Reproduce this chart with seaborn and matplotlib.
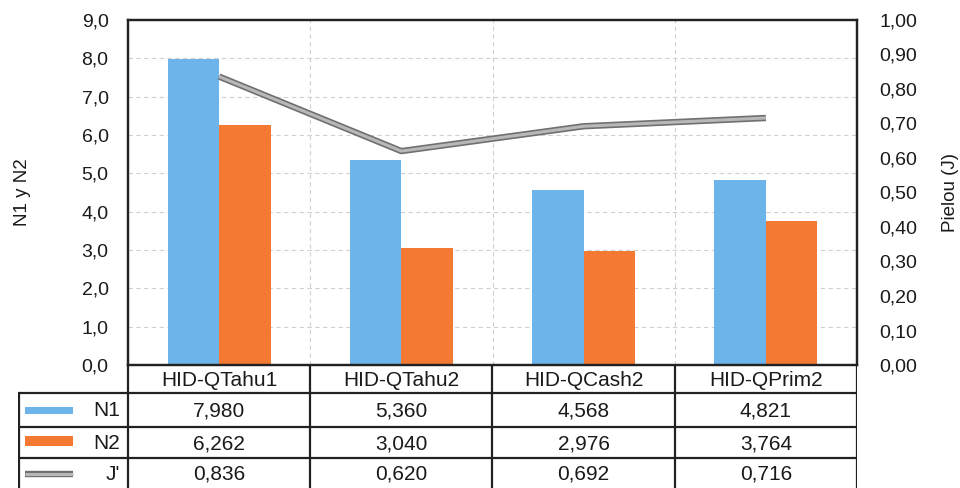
import numpy as np
import pandas as pd
import matplotlib
matplotlib.use("Agg")
import matplotlib.pyplot as plt
import matplotlib.patheffects as pe
from matplotlib.patches import Rectangle
from matplotlib.ticker import FuncFormatter, MultipleLocator
import seaborn as sns

# --- data ---------------------------------------------------------------
categories = ["HID-QTahu1", "HID-QTahu2", "HID-QCash2", "HID-QPrim2"]
n1 = [7.980, 5.360, 4.568, 4.821]
n2 = [6.262, 3.040, 2.976, 3.764]
pielou = [0.836, 0.620, 0.692, 0.716]
series_names = ["N1", "N2", "J'"]

# --- style --------------------------------------------------------------
sns.set_style("white")
plt.rcParams["font.family"] = ["Liberation Sans", "DejaVu Sans"]
TXT = "#1a1a1a"
BLUE = "#6db4ea"
ORANGE = "#f47a33"
LINE_IN = "#b8b8b8"
LINE_OUT = "#707070"
EDGE = "#222222"
GRID = "#d0d0d0"

df = pd.DataFrame({
    "categoria": categories * 2,
    "serie": ["N1"] * len(categories) + ["N2"] * len(categories),
    "valor": n1 + n2,
})

W, H = 960, 488
fig = plt.figure(figsize=(W / 100, H / 100), dpi=100)

# plot area in pixel units
PX_L, PX_R, PX_T, PX_B = 128, 857, 20, 365
ax = fig.add_axes([PX_L / W, 1 - PX_B / H, (PX_R - PX_L) / W, (PX_B - PX_T) / H])

sns.barplot(data=df, x="categoria", y="valor", hue="serie", order=categories,
            hue_order=["N1", "N2"], palette=[BLUE, ORANGE], width=0.566,
            saturation=1, legend=False, linewidth=0, ax=ax, zorder=2)

ax.set_ylim(0, 9)
ax.yaxis.set_major_locator(MultipleLocator(1))
ax.yaxis.set_major_formatter(FuncFormatter(lambda v, p: f"{v:.1f}".replace(".", ",")))
ax.set_axisbelow(True)
ax.grid(axis="y", color=GRID, linestyle=(0, (4, 3)), linewidth=0.8)
for b in [0.5, 1.5, 2.5]:
    ax.axvline(b, color=GRID, linestyle=(0, (4, 3)), linewidth=0.8, zorder=0)
ax.set_xlabel("")
ax.set_ylabel("N1 y N2", fontsize=13.5, color=TXT, labelpad=36)
ax.set_xticks([])
ax.tick_params(axis="y", length=0, pad=14, labelsize=14, labelcolor=TXT)
for s in ax.spines.values():
    s.set_color(EDGE)
    s.set_linewidth(1.6)

# Pielou evenness on the secondary axis
line_fx = [pe.Stroke(linewidth=4.6, foreground=LINE_OUT), pe.Normal()]
ax2 = ax.twinx()
sns.lineplot(x=np.arange(len(categories)), y=pielou, ax=ax2, color=LINE_IN,
             linewidth=2.2, zorder=5, solid_capstyle="butt", path_effects=line_fx)
ax2.set_ylim(0, 1)
ax2.yaxis.set_major_locator(MultipleLocator(0.1))
ax2.yaxis.set_major_formatter(FuncFormatter(lambda v, p: f"{v:.2f}".replace(".", ",")))
ax2.tick_params(axis="y", length=0, pad=16, labelsize=14, labelcolor=TXT)
ax2.set_ylabel("Pielou (J)", fontsize=13.5, color=TXT, labelpad=18)
for s in ax2.spines.values():
    s.set_color(EDGE)
    s.set_linewidth(1.6)
ax.set_xlim(-0.5, len(categories) - 0.5)
ax2.set_xlim(-0.5, len(categories) - 0.5)

# --- data table under the plot -----------------------------------------
unit = (PX_R - PX_L) / len(categories)
TAB_L = 18
x_left = -0.5 - (PX_L - TAB_L) / unit
tab = fig.add_axes([TAB_L / W, 0, (PX_R - TAB_L) / W, (H - PX_B) / H])
tab.set_xlim(x_left, len(categories) - 0.5)
tab.set_ylim(H, PX_B)
tab.axis("off")

rows_y = [365, 393, 427, 458, 488]
lw = 1.6
# vertical rules
for k in range(len(categories) + 1):
    tab.plot([k - 0.5, k - 0.5], [rows_y[0], rows_y[-1]], color=EDGE, lw=lw,
             solid_capstyle="butt")
tab.plot([x_left + 0.003, x_left + 0.003], [rows_y[1], rows_y[-1]], color=EDGE, lw=lw)
# horizontal rules
for yy in rows_y[1:-1]:
    tab.plot([x_left, len(categories) - 0.5], [yy, yy], color=EDGE, lw=lw)

for k, c in enumerate(categories):
    tab.text(k, (rows_y[0] + rows_y[1]) / 2 + 1, c, ha="center", va="center",
             fontsize=15, color=TXT)

table_rows = [n1, n2, pielou]
for r, vals in enumerate(table_rows):
    yc = (rows_y[r + 1] + rows_y[r + 2]) / 2 + 1
    for k, v in enumerate(vals):
        tab.text(k, yc, f"{v:.3f}".replace(".", ","), ha="center", va="center",
                 fontsize=15, color=TXT)
    tab.text(-0.5 - 8 / unit, yc, series_names[r], ha="right", va="center",
             fontsize=15, color=TXT)


def px2x(px):
    return -0.5 + (px - PX_L) / unit


# legend keys inside the table
sw_l, sw_r = px2x(25), px2x(73)
tab.add_patch(Rectangle((sw_l, 407), sw_r - sw_l, 6.5, color=BLUE, lw=0))
tab.add_patch(Rectangle((sw_l, 436), sw_r - sw_l, 10, color=ORANGE, lw=0))
tab.plot([sw_l, sw_r], [474, 474], color=LINE_IN, lw=2.2, solid_capstyle="butt",
         path_effects=line_fx)

fig.savefig("out.png", dpi=100, facecolor="white")
